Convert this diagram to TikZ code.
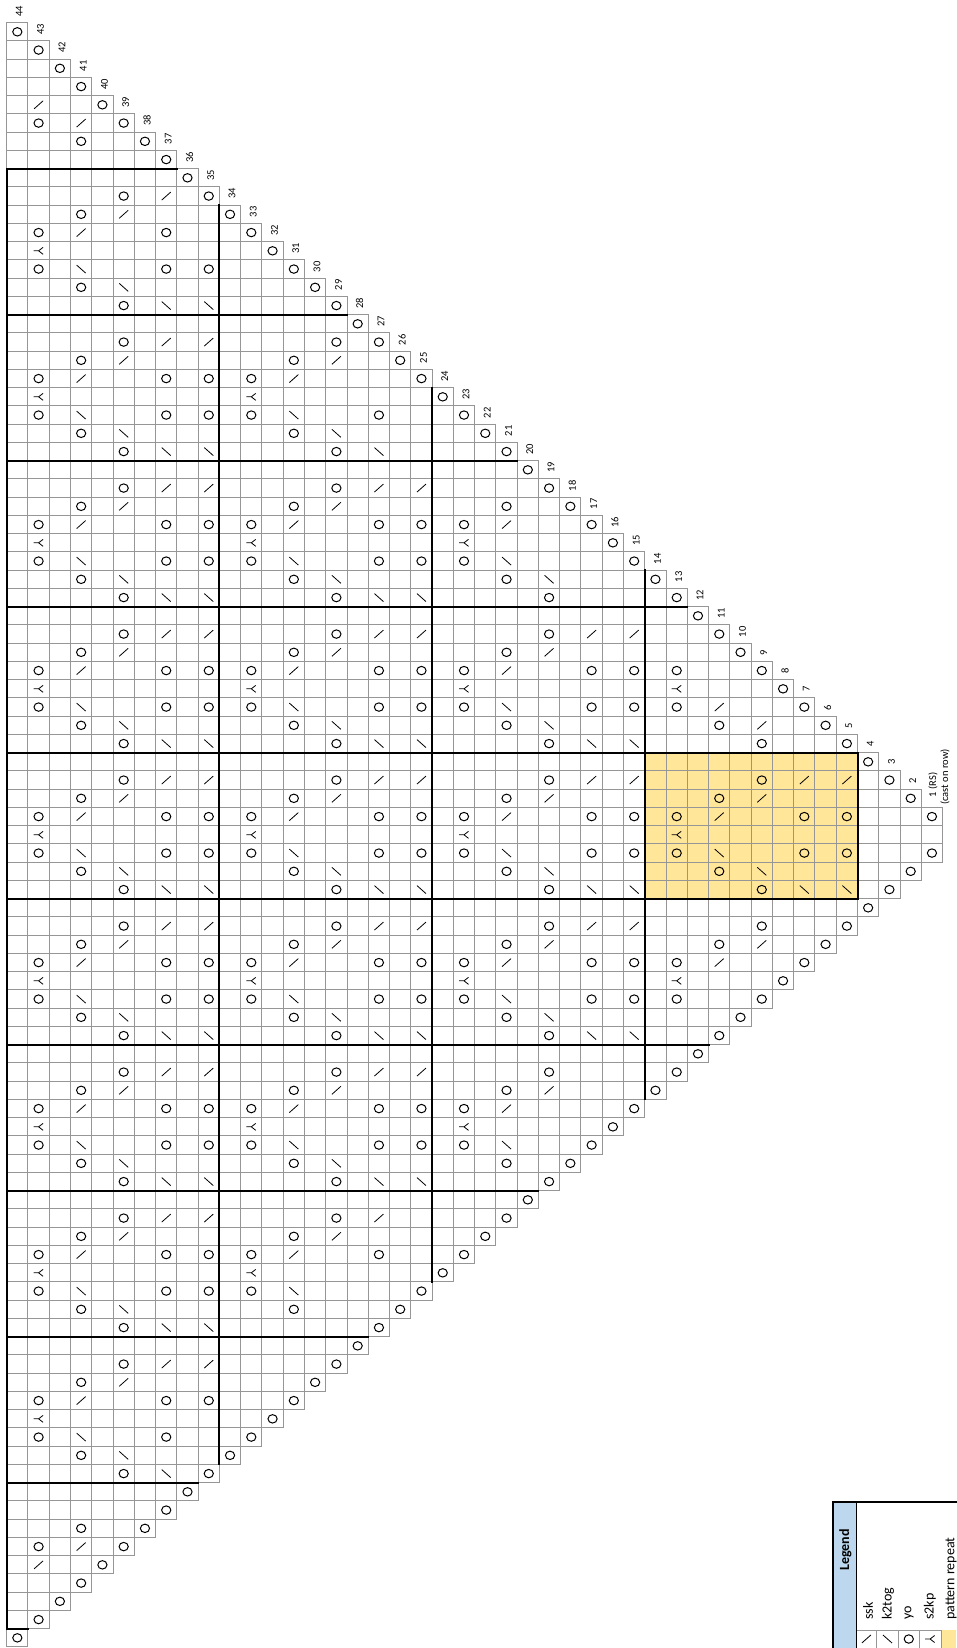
\documentclass[tikz,border=0pt]{standalone}
\usepackage{fontspec}
\setmainfont{Carlito}
\definecolor{gridgray}{RGB}{150,150,150}
\definecolor{repfill}{RGB}{255,230,153}
\definecolor{legblue}{RGB}{189,215,238}
\tikzset{
  gridl/.style={draw=gridgray,line width=1pt,line cap=rect},
  thickl/.style={draw=black,line width=2pt,line cap=rect},
  symo/.style={draw=black,line width=1pt},
  syms/.style={draw=black,line width=0.8pt},
  rowlbl/.style={font=\fontsize{10.5}{12}\selectfont,rotate=90,anchor=west,inner sep=0pt},
  legtxt/.style={font=\fontsize{14}{16}\selectfont,rotate=90,anchor=west,inner sep=0pt},
}
\newcommand\kcO[1]{\draw[symo] #1 ellipse [x radius=4.6pt,y radius=4.2pt];}
\newcommand\kcR[1]{\draw[syms] #1 ++(-4.5pt,-4pt) -- ++(9pt,8pt);}
\newcommand\kcL[1]{\draw[syms] #1 ++(-4.5pt,4pt) -- ++(9pt,-8pt);}
\newcommand\kcY[1]{\draw[syms] #1 ++(-5pt,0pt) -- ++(5pt,0pt) -- ++(4.5pt,3.5pt) #1 -- ++(4.5pt,-3.5pt);}
\newcommand\cO[2]{\kcO{({#1+0.5},{#2+0.5})}}
\newcommand\cR[2]{\kcR{({#1+0.5},{#2+0.5})}}
\newcommand\cL[2]{\kcL{({#1+0.5},{#2+0.5})}}
\newcommand\cY[2]{\kcY{({#1+0.5},{#2+0.5})}}
\begin{document}
\begin{tikzpicture}[x=1pt,y=-1pt]
\useasboundingbox (0,0) rectangle (956,1648);
\fill[white] (0,0) rectangle (956,1648);
\begin{scope}[shift={(6.7pt,-22.7pt)},x=21.27pt,y=-18.25pt]
  % repeat fill
  \fill[repfill] (30,40) rectangle (40,48);
  % grid
  \foreach \c in {0,...,89}{
    \pgfmathtruncatemacro\rmin{max(44-\c,\c-45,1)}
    \draw[gridl] (0,\c) -- ({45-\rmin},\c);
  }
  \draw[gridl] (0,0) -- (0,89);
  \foreach \k in {1,...,44}{\draw[gridl] (\k,{\k-1}) -- (\k,{90-\k});}
  % thick lines
  \foreach \c in {8,16,...,80}{
    \pgfmathtruncatemacro\rmin{max(45-\c,\c-44,5)}
    \draw[thickl] (0,\c) -- ({45-\rmin},\c);
  }
  \draw[thickl] (0,88) -- (1,88);
  \foreach \k in {10,20,30}{\draw[thickl] (\k,\k) -- (\k,{89-\k});}
  \draw[thickl] (0,8) -- (0,88);
  \draw[thickl] (30,40) rectangle (40,48);
  % edge yarn overs
  \foreach \r in {1,...,44}{\cO{44-\r}{44-\r}\cO{44-\r}{44+\r}}
  % row 5 and 7
  \foreach \k in {39,37}{\cR{\k}{41}\cO{\k}{43}\cO{\k}{45}\cL{\k}{47}}
  % row 9
  \foreach \c in {39,41,47,49}{\cO{35}{\c}}
  \foreach \c in {38,42,50}{\cR{35}{\c}}
  \cL{35}{46}
  % row 11
  \foreach \c in {38,42,46,50}{\cO{33}{\c}}
  \foreach \c in {37,43,51}{\cR{33}{\c}}
  \cL{33}{45}
  % row 13
  \foreach \c in {35,37,43,45,51,53}{\cO{31}{\c}}
  \foreach \c in {36,44,52}{\cY{31}{\c}}
  % rows 15, 17
  \foreach \k in {29,27}{
    \foreach \c in {33,41,49}{\cR{\k}{\c}}
    \foreach \c in {35,37,43,45,51,53}{\cO{\k}{\c}}
    \foreach \c in {39,47,55}{\cL{\k}{\c}}
  }
  % row 19
  \foreach \c in {31,33,39,41,47,49,55,57}{\cO{25}{\c}}
  \foreach \c in {34,42,50,58}{\cR{25}{\c}}
  \foreach \c in {30,38,46,54}{\cL{25}{\c}}
  % row 21
  \foreach \c in {26,30,34,38,42,46,50,54,58,62}{\cO{23}{\c}}
  \foreach \c in {27,35,43,51,59}{\cR{23}{\c}}
  \foreach \c in {29,37,45,53,61}{\cL{23}{\c}}
  % row 23
  \foreach \c in {27,29,35,37,43,45,51,53,59,61}{\cO{21}{\c}}
  \foreach \c in {28,36,44,52,60}{\cY{21}{\c}}
  % row 25
  \foreach \c in {25,33,41,49,57}{\cR{19}{\c}}
  \foreach \c in {27,29,35,37,43,45,51,53,59,61}{\cO{19}{\c}}
  \foreach \c in {31,39,47,55,63}{\cL{19}{\c}}
  % row 27
  \foreach \c in {25,33,...,65}{\cR{17}{\c}}
  \foreach \c in {21,29,...,61}{\cO{17}{\c}}
  \foreach \c in {27,35,...,67}{\cO{17}{\c}}
  \foreach \c in {23,31,...,63}{\cL{17}{\c}}
  % row 29
  \foreach \c in {17,25,...,65}{\cO{15}{\c}}
  \foreach \c in {23,31,...,63}{\cO{15}{\c}}
  \foreach \c in {18,26,...,66}{\cR{15}{\c}}
  \foreach \c in {22,30,...,62}{\cL{15}{\c}}
  % row 31
  \foreach \c in {18,26,...,66}{\cO{13}{\c}}
  \foreach \c in {22,30,...,70}{\cO{13}{\c}}
  \foreach \c in {19,27,...,67}{\cR{13}{\c}}
  \foreach \c in {21,29,...,69}{\cL{13}{\c}}
  % row 33
  \foreach \c in {19,27,...,67}{\cO{11}{\c}}
  \foreach \c in {21,29,...,69}{\cO{11}{\c}}
  \foreach \c in {20,28,...,68}{\cY{11}{\c}}
  % row 35
  \foreach \c in {17,25,...,73}{\cR{9}{\c}}
  \foreach \c in {19,27,...,75}{\cO{9}{\c}}
  \foreach \c in {13,21,...,69}{\cO{9}{\c}}
  \foreach \c in {15,23,...,71}{\cL{9}{\c}}
  % row 37
  \foreach \c in {9,17,...,73}{\cR{7}{\c}}
  \foreach \c in {11,19,...,75}{\cO{7}{\c}}
  \foreach \c in {13,21,...,77}{\cO{7}{\c}}
  \foreach \c in {15,23,...,79}{\cL{7}{\c}}
  % row 39
  \foreach \c in {9,17,...,73}{\cO{5}{\c}}
  \foreach \c in {15,23,...,79}{\cO{5}{\c}}
  \foreach \c in {10,18,...,74}{\cR{5}{\c}}
  \foreach \c in {14,22,...,78}{\cL{5}{\c}}
  % row 41
  \foreach \c in {10,18,...,82}{\cO{3}{\c}}
  \foreach \c in {14,22,...,78}{\cO{3}{\c}}
  \cO{3}{6}
  \foreach \c in {11,19,...,83}{\cR{3}{\c}}
  \cR{3}{5}
  \foreach \c in {13,21,...,77}{\cL{3}{\c}}
  % row 43
  \foreach \c in {11,19,...,83}{\cO{1}{\c}}
  \foreach \c in {5,13,...,77}{\cO{1}{\c}}
  \foreach \c in {12,20,...,76}{\cY{1}{\c}}
  \cR{1}{4}\cR{1}{84}
  % row labels
  \foreach \r in {2,...,44}{
    \node[rowlbl] (lbl\r) at ([xshift=2pt,yshift=6pt]{44-\r+0.5},{44-\r}) {\r};
  }
  \node[rowlbl] (lbl1) at ([xshift=1pt,yshift=10pt]43.5,43) {1 (RS)};
  \node[rowlbl] (lblcast) at ([xshift=13pt,yshift=2.5pt]43.5,43) {(cast on row)};
\end{scope}
% legend
\fill[legblue] (833.3,1501.7) rectangle (856,1648);
\fill[repfill] (941,1630) rectangle (956,1648);
\draw[gridl] (856,1630) -- (941,1630);
\foreach \x in {876.7,898.3,919.3,941}{\draw[gridl] (\x,1630) -- (\x,1648);}
\draw[draw=black,line width=1pt] (856,1501.7) -- (856,1648);
\draw[thickl] (956,1501.7) -- (833.3,1501.7) -- (833.3,1648);
\kcR{(866.3,1639)}
\kcL{(887.5,1639)}
\kcO{(908.8,1639)}
\kcY{(930.1,1639)}
\node[font=\bfseries\fontsize{14}{16}\selectfont,rotate=90] (leghead) at (845.5,1550) {Legend};
\node[legtxt] (lssk) at (868,1620) {ssk};
\node[legtxt] (lk2tog) at (888,1620) {k2tog};
\node[legtxt] (lyo) at (909,1620) {yo};
\node[legtxt] (ls2kp) at (930,1620) {s2kp};
\node[legtxt] (lrep) at (951,1620) {pattern repeat};
\end{tikzpicture}
\end{document}
